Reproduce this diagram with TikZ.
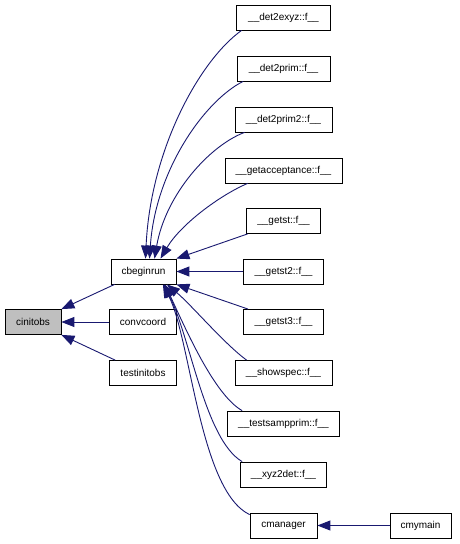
\documentclass[tikz,border=0pt]{standalone}
\usepackage{fontspec}
\setmainfont{Liberation Sans}
\usetikzlibrary{arrows.meta}
\definecolor{edgeblue}{RGB}{25,25,112}
\definecolor{fillgray}{RGB}{191,191,191}
\tikzset{
  fnbox/.style={draw=black, line width=0.8pt, fill=white, minimum height=25pt, inner sep=0pt, font=\fontsize{10pt}{12pt}\selectfont},
  curbox/.style={fnbox, fill=fillgray},
  calledge/.style={draw=edgeblue, line width=0.9pt, -{Triangle[length=13pt,width=10pt]}},
}
\begin{document}
\begin{tikzpicture}[x=1pt,y=-1pt]
\useasboundingbox (0,0) rectangle (459,544);
% left and middle columns
\node[curbox, minimum width=56pt] (cinitobs) at (33,322) {cinitobs};
\node[fnbox, minimum width=65pt] (cbeginrun) at (143.5,271.5) {cbeginrun};
\node[fnbox, minimum width=67pt] (convcoord) at (143,322) {convcoord};
\node[fnbox, minimum width=67pt] (testinitobs) at (143,373) {testinitobs};
% right column
\node[fnbox, minimum width=94pt] (det2exyz) at (283.5,17.5) {\_\_det2exyz::f\_\_};
\node[fnbox, minimum width=93pt] (det2prim) at (283.5,68.5) {\_\_det2prim::f\_\_};
\node[fnbox, minimum width=97pt] (det2prim2) at (283.5,119.5) {\_\_det2prim2::f\_\_};
\node[fnbox, minimum width=117pt] (getacceptance) at (283.5,170.5) {\_\_getacceptance::f\_\_};
\node[fnbox, minimum width=74pt] (getst) at (283.5,221) {\_\_getst::f\_\_};
\node[fnbox, minimum width=80pt] (getst2) at (283.5,271.5) {\_\_getst2::f\_\_};
\node[fnbox, minimum width=80pt] (getst3) at (283.5,322) {\_\_getst3::f\_\_};
\node[fnbox, minimum width=97pt] (showspec) at (283.5,373) {\_\_showspec::f\_\_};
\node[fnbox, minimum width=112pt] (testsampprim) at (283.5,423.5) {\_\_testsampprim::f\_\_};
\node[fnbox, minimum width=86pt] (xyz2det) at (283.5,474.5) {\_\_xyz2det::f\_\_};
\node[fnbox, minimum width=67pt] (cmanager) at (283.5,525.5) {cmanager};
\node[fnbox, minimum width=61pt] (cmymain) at (420.5,525.5) {cmymain};
% edges into cinitobs
\draw[calledge] ([xshift=4pt]cbeginrun.south west) -- (cinitobs.north east);
\draw[calledge] (convcoord.west) -- (cinitobs.east);
\draw[calledge] ([xshift=6pt]testinitobs.north west) -- (cinitobs.south east);
% edge into cmanager
\draw[calledge] (cmymain.west) -- (cmanager.east);
% edges into cbeginrun (top)
\draw[calledge] ([xshift=5.5pt]det2exyz.south west) .. controls +(-42,30) and +(5,-109) .. ([xshift=2pt]cbeginrun.north);
\draw[calledge] ([xshift=6.5pt]det2prim.south west) .. controls +(-38,19) and +(6,-89) .. ([xshift=6pt]cbeginrun.north);
\draw[calledge] ([xshift=10pt]det2prim2.south west) .. controls +(-35,13) and +(11,-64) .. ([xshift=11pt]cbeginrun.north);
\draw[calledge] ([xshift=23pt]getacceptance.south west) .. controls +(-28,12) and +(20,-34) .. ([xshift=17pt]cbeginrun.north);
% straight edges at the right side
\draw[calledge] ([xshift=1.5pt]getst.south west) -- (cbeginrun.north east);
\draw[calledge] (getst2.west) -- (cbeginrun.east);
\draw[calledge] ([xshift=5pt]getst3.north west) -- (cbeginrun.south east);
% edges into cbeginrun (bottom)
\draw[calledge] ([xshift=12pt]showspec.north west) .. controls +(-22,-16) and +(24,20) .. ([xshift=-9.5pt]cbeginrun.south east);
\draw[calledge] ([xshift=15pt]testsampprim.north west) .. controls +(-28,-16) and +(21,45) .. ([xshift=-11.5pt]cbeginrun.south east);
\draw[calledge] ([xshift=2pt]xyz2det.north west) .. controls +(-37,-22) and +(27,55) .. ([xshift=-12.5pt]cbeginrun.south east);
\draw[calledge] ([yshift=-2pt]cmanager.north west) .. controls +(-50,-24) and +(28,55) .. ([xshift=-13.5pt]cbeginrun.south east);
\end{tikzpicture}
\end{document}
